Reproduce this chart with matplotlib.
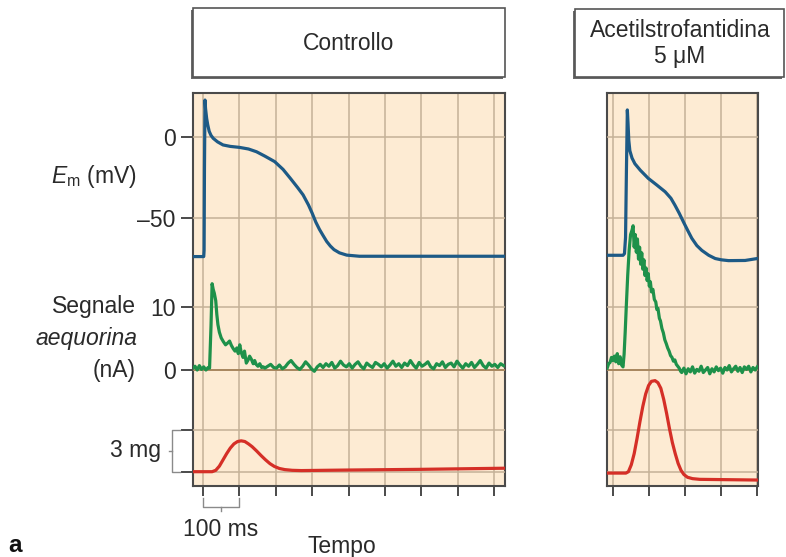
import numpy as np
import matplotlib
matplotlib.use('Agg')
import matplotlib.pyplot as plt
from matplotlib.patches import Rectangle
from matplotlib.lines import Line2D
from matplotlib.transforms import blended_transform_factory

plt.rcParams['font.family'] = ['Liberation Sans', 'DejaVu Sans']
plt.rcParams['mathtext.fontset'] = 'custom'
plt.rcParams['mathtext.rm'] = 'Liberation Sans'
plt.rcParams['mathtext.it'] = 'Liberation Sans:italic'

# ---- data (time in ms, Em in mV, aequorin in nA, tension in mg) ----
# controllo
ctl_em_t = [-27.5, 2.0, 3.0, 4.0, 5.5, 7, 10, 13, 17, 22, 28, 40, 55, 75, 100, 125, 147, 170, 197, 220,
            240, 260, 275, 290, 300, 310, 320, 330, 340, 350, 360, 375, 395, 430, 830]
ctl_em = [-73.8, -73.8, -70, -20, 22.8, 17.5, 11.5, 7.5, 3.5, 1, -0.8, -3, -4.9, -5.8, -6.4, -7.4, -9.1, -11.8, -15.2, -20,
          -25.5, -31.2, -35.7, -42, -47, -52.5, -57, -60.8, -64.5, -67.3, -69.5, -71.5, -72.9, -73.6, -73.6]

ctl_aeq_pre_t = [-27.5, -22, -16, -10, -4, 2, 8, 14, 18]
ctl_aeq_pre = [0.3, 0.6, 0.0, 0.7, 0.1, 0.5, 0.0, 0.4, 0.3]
ctl_aeq_peak_t = [22, 25, 28, 31, 35, 38, 41, 45, 50, 56, 62, 68, 73, 78, 83, 88, 93, 97, 101, 105,
                  110, 114, 119, 124, 128, 133, 138, 142, 146, 151, 156, 161, 166]
ctl_aeq_peak = [7, 13.7, 12.8, 12.2, 11.0, 8.8, 7.2, 6.0, 5.1, 4.5, 4.0, 4.3, 4.6, 3.9, 3.4, 3.0, 3.5, 2.6, 4.0, 2.8,
                2.0, 3.0, 1.1, 1.6, 2.2, 1.7, 1.0, 1.5, 0.9, 0.6, 1.0, 0.4, 0.5]
ctl_aeq_tail_t = np.arange(170, 830, 8)
ctl_aeq_tail = [0.3, 0.6, 0.9, 0.4, 0.3, 0.8, 0.2, 0.5, 1.1, 1.5,
                0.9, 0.4, 0.1, 0.6, 1.3, 0.8, 0.2, -0.2, 0.5, 0.9,
                0.4, 1.0, 0.6, 1.2, 0.3, 0.7, 1.4, 0.8, 0.5, 1.0,
                0.3, 0.9, 1.3, 0.6, 0.2, 1.1, 0.7, 0.4, 1.2, 0.9,
                0.5, 1.0, 0.3, 0.8, 1.4, 0.6, 1.0, 0.4, 1.1, 0.7,
                1.5, 0.8, 0.3, 1.2, 0.6, 0.9, 1.3, 0.5, 0.2, 1.0,
                0.7, 1.3, 0.4, 0.9, 1.1, 0.5, 1.4, 0.8, 0.3, 1.0,
                0.6, 1.2, 0.4, 0.9, 1.5, 0.7, 0.3, 1.1, 0.6, 0.9,
                0.4, 1.0, 0.7]

ctl_ten_t = [-27.5, 25, 35, 45, 55, 65, 75, 85, 95, 105, 115, 125, 135, 147, 160, 172, 184, 196, 210, 225,
             245, 270, 400, 600, 830]
ctl_ten = [0, 0, 0.1, 0.4, 0.85, 1.3, 1.7, 2.0, 2.17, 2.22, 2.17, 2.0, 1.8, 1.5, 1.15, 0.85, 0.58, 0.38, 0.23, 0.15,
           0.1, 0.08, 0.12, 0.17, 0.25]

# acetilstrofantidina 5 uM
acs_em_t = [-18, 27, 31, 34, 36.5, 39, 41, 43, 46, 52, 60, 75, 97, 120, 144, 160, 171, 183, 195, 207,
            218, 232, 246, 265, 283, 300, 320, 366, 400]
acs_em = [-73, -73, -72, -62, -20, 16.7, 8, -2, -8.5, -13, -16.5, -20.5, -25.5, -29.5, -33.8, -37.8, -42, -47, -52.5, -57.8,
          -62.5, -67, -70, -73, -75, -75.8, -76.3, -76.2, -75]

acs_aeq_peak_t = [-17, -13, -9, -5, -1, 3, 7, 11, 15, 19, 23, 27, 30, 33, 36, 40, 44, 48, 52, 55,
                  58, 61, 64, 67, 70, 73, 76, 79, 82, 85, 88, 91, 94, 97, 100, 103, 106, 110, 114, 118,
                  121, 124, 128, 131, 135, 139, 143, 147, 151, 155, 159, 163, 167, 171, 175, 179, 183, 187]
acs_aeq_peak = [0.3, 1.0, 1.2, 2.0, 1.5, 2.2, 1.3, 2.6, 1.0, 2.1, 0.8, 0.5, 2.5, 6, 10, 15, 19, 21.5, 22.2, 22.9,
                19.5, 21.5, 18.7, 20.8, 17.6, 19.5, 16.8, 18.6, 16.0, 17.5, 15.0, 16.2, 14.2, 15.3, 13.3, 14.0, 12.4, 12.8, 11.2, 10.8,
                9.6, 9.8, 8.2, 7.8, 6.6, 5.9, 4.8, 4.2, 3.5, 3.0, 2.3, 2.0, 1.4, 1.6, 0.9, 0.6, 0.3, -0.2]
acs_aeq_tail_t = np.arange(190, 401, 6)
acs_aeq_tail = [-0.4, 0.3, -0.6, 0.2, -0.3, 0.5, -0.5, 0.1, -0.2, 0.6,
                -0.4, 0.0, 0.4, -0.6, 0.2, -0.3, 0.5, -0.1, 0.3, -0.5,
                0.4, 0.0, 0.7, -0.3, 0.2, 0.6, -0.2, 0.4, -0.4, 0.5,
                0.1, 0.6, -0.3, 0.4, 0.0, 0.5]

acs_ten_t = [-18, 35, 42, 50, 58, 66, 74, 82, 90, 98, 106, 116, 124, 132, 140, 148, 156, 164, 172, 180,
             188, 196, 206, 220, 240, 400]
acs_ten = [-0.1, -0.1, 0.0, 0.5, 1.3, 2.4, 3.6, 4.7, 5.6, 6.2, 6.5, 6.55, 6.4, 6.0, 5.2, 4.2, 3.1, 2.1, 1.3, 0.6,
           0.1, -0.2, -0.4, -0.5, -0.55, -0.6]

# ---- style ----
BG = '#fdebd3'
GRID = '#c4b197'
ZERO = '#a8875f'
FRAME = '#4a4a4a'
BLUE = '#1d5a86'
GREEN = '#1e914a'
RED = '#d52f27'
TXT = '#2a2a2a'
FS = 16.5

W, H = 786, 557
fig = plt.figure(figsize=(W / 100, H / 100), dpi=100)


def fx(px):
    return px / W


def fy(py):
    return 1 - py / H


PT, PB = 93, 486
em_lim = (-215.4, 27.16)
aeq_lim = (-18.41, 43.97)
ten_lim = (-1.029, 27.24)


def panel(x0, x1, xlim, xticks, with_labels):
    rect = [fx(x0), fy(PB), (x1 - x0) / W, (PB - PT) / H]
    bg = fig.add_axes(rect)
    bg.set_facecolor(BG)
    bg.set_xlim(xlim)
    bg.set_ylim(0, 1)
    bg.set_xticks(xticks)
    bg.set_xticklabels([])
    bg.set_yticks([])
    bg.grid(axis='x', color=GRID, lw=1.1)
    bg.tick_params(axis='x', direction='out', length=7.5, width=1.4, color=FRAME)
    for s in bg.spines.values():
        s.set_color(FRAME)
        s.set_linewidth(1.5)
    out = []
    for lim, ticks, labels in [(em_lim, [-50, 0], ['\u201350', '0']),
                               (aeq_lim, [0, 10], ['0', '10']),
                               (ten_lim, [0, 3], ['', ''])]:
        a = fig.add_axes(rect, sharex=bg)
        a.patch.set_visible(False)
        for s in a.spines.values():
            s.set_visible(False)
        a.set_ylim(lim)
        a.set_yticks(ticks, labels)
        a.tick_params(axis='x', bottom=False, labelbottom=False)
        a.tick_params(axis='y', direction='out', length=9, width=1.4, color=FRAME,
                      pad=3.5, labelsize=FS, labelcolor=TXT,
                      left=with_labels, labelleft=with_labels)
        a.grid(axis='y', color=GRID, lw=1.1)
        out.append(a)
    out[1].axhline(0, color=ZERO, lw=1.4)
    return bg, out


bg1, (em1, aeq1, ten1) = panel(193, 505, (-27.5, 830), range(0, 900, 100), True)
bg2, (em2, aeq2, ten2) = panel(607, 757.5, (-17.5, 400.5), range(0, 500, 100), False)

lw = 2.3
em1.plot(ctl_em_t, ctl_em, color=BLUE, lw=lw, solid_joinstyle='round')
aeq1.plot(list(ctl_aeq_pre_t) + list(ctl_aeq_peak_t) + list(ctl_aeq_tail_t),
          ctl_aeq_pre + ctl_aeq_peak + ctl_aeq_tail, color=GREEN, lw=lw, solid_joinstyle='round')
ten1.plot(ctl_ten_t, ctl_ten, color=RED, lw=lw, solid_joinstyle='round')

em2.plot(acs_em_t, acs_em, color=BLUE, lw=lw, solid_joinstyle='round')
aeq2.plot(list(acs_aeq_peak_t) + list(acs_aeq_tail_t), acs_aeq_peak + acs_aeq_tail,
          color=GREEN, lw=lw, solid_joinstyle='round')
ten2.plot(acs_ten_t, acs_ten, color=RED, lw=lw, solid_joinstyle='round')

# header boxes
for (x0, x1, y0, y1) in [(193, 505, 8.5, 76.5), (575, 784, 9, 77)]:
    fig.add_artist(Rectangle((fx(x0 - 2), fy(y1 + 2)), (x1 - x0) / W, (y1 - y0) / H,
                             transform=fig.transFigure, facecolor='#6a6a6a', edgecolor='none'))
    fig.add_artist(Rectangle((fx(x0), fy(y1)), (x1 - x0) / W, (y1 - y0) / H,
                             transform=fig.transFigure, facecolor='white', edgecolor='#555555', lw=1.2))
fig.text(fx(349), fy(43), 'Controllo', ha='center', va='center', fontsize=FS, color=TXT)
fig.text(fx(680), fy(43.5), 'Acetilstrofantidina\n5 \u03bcM', ha='center', va='center',
         fontsize=FS, color=TXT, linespacing=1.15)

# axis labels
fig.text(fx(137), fy(177), '$E_{\\mathrm{m}}$ (mV)', ha='right', va='center', fontsize=FS, color=TXT)
fig.text(fx(136), fy(307), 'Segnale', ha='right', va='center', fontsize=FS, color=TXT)
fig.text(fx(137), fy(339), 'aequorina', ha='right', va='center', fontsize=FS, color=TXT, style='italic')
fig.text(fx(136), fy(371), '(nA)', ha='right', va='center', fontsize=FS, color=TXT)
fig.text(fx(161), fy(451), '3 mg', ha='right', va='center', fontsize=FS, color=TXT)
fig.text(fx(221), fy(530), '100 ms', ha='center', va='center', fontsize=FS, color=TXT)
fig.text(fx(342), fy(546), 'Tempo', ha='center', va='center', fontsize=FS, color=TXT)
fig.text(fx(15), fy(545), 'a', ha='center', va='center', fontsize=FS + 1, color='#111111', fontweight='bold')

# 3 mg bracket
tr = blended_transform_factory(fig.transFigure, ten1.transData)
fig.add_artist(Line2D([fx(180), fx(172), fx(172), fx(180)], [3, 3, 0, 0], transform=tr,
                      color='#8a8a8a', lw=1.0))
fig.add_artist(Line2D([fx(172), fx(169)], [1.5, 1.5], transform=tr, color='#8a8a8a', lw=1.0))

# 100 ms bracket
tr = blended_transform_factory(bg1.transData, fig.transFigure)
fig.add_artist(Line2D([0, 0, 100, 100], [fy(498), fy(507), fy(507), fy(498)], transform=tr,
                      color='#8a8a8a', lw=1.0))
fig.add_artist(Line2D([50, 50], [fy(507), fy(511)], transform=tr, color='#8a8a8a', lw=1.0))

fig.savefig('out.png', dpi=100, facecolor='white')
